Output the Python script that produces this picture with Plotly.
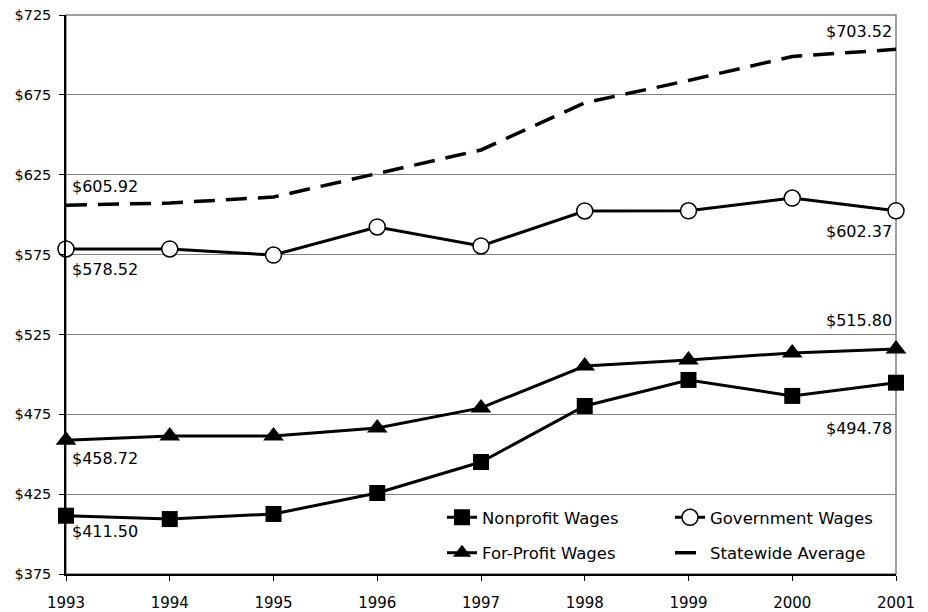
import plotly.graph_objects as go

years = [1993, 1994, 1995, 1996, 1997, 1998, 1999, 2000, 2001]
nonprofit = [411.50, 409.4, 412.6, 425.7, 445.1, 480.2, 496.5, 486.5, 494.78]
forprofit = [458.72, 461.4, 461.4, 466.4, 479.0, 505.2, 509.0, 513.4, 515.80]
government = [578.52, 578.5, 574.7, 592.3, 580.4, 602.3, 602.4, 610.4, 602.37]
statewide = [605.92, 607.3, 611.0, 625.5, 640.5, 670.0, 684.0, 699.0, 703.52]
y_ticks = [375, 425, 475, 525, 575, 625, 675, 725]
y_ticklabels = ["$" + str(v) for v in y_ticks]

FONT = "DejaVu Sans"

fig = go.Figure()
fig.add_trace(go.Scatter(x=years, y=nonprofit, name="Nonprofit Wages", mode="lines+markers",
                         line=dict(color="black", width=3),
                         marker=dict(symbol="square", size=16, color="black"),
                         cliponaxis=False, legend="legend", legendgroup="a"))
fig.add_trace(go.Scatter(x=years, y=forprofit, name="For-Profit Wages", mode="lines+markers",
                         line=dict(color="black", width=3),
                         marker=dict(symbol="triangle-up", size=18, color="black"),
                         cliponaxis=False, legend="legend", legendgroup="b"))
fig.add_trace(go.Scatter(x=years, y=government, name="Government Wages", mode="lines+markers",
                         line=dict(color="black", width=3),
                         marker=dict(symbol="circle", size=16, color="white",
                                     line=dict(color="black", width=1.5)),
                         cliponaxis=False, legend="legend2", legendgroup="c"))
fig.add_trace(go.Scatter(x=years, y=statewide, name="Statewide Average", mode="lines",
                         line=dict(color="black", width=3.5, dash="21px,11px"),
                         cliponaxis=False, legend="legend2", legendgroup="d"))

def lab(v):
    return "${:.2f}".format(v)

# (series, first-label yshift, last-label yshift); positive = above point
label_specs = [
    (statewide, 7, 6),
    (government, -9, -9),
    (forprofit, -7, 17),
    (nonprofit, -4, -34),
]
annots = []
for series, ys0, ys1 in label_specs:
    annots.append(dict(x=years[0], y=series[0], text=lab(series[0]), showarrow=False,
                       xanchor="left", yanchor="bottom" if ys0 > 0 else "top",
                       xshift=4, yshift=ys0,
                       font=dict(family=FONT, size=16, color="black")))
    annots.append(dict(x=years[-1], y=series[-1], text=lab(series[-1]), showarrow=False,
                       xanchor="right", yanchor="bottom" if ys1 > 0 else "top",
                       xshift=-2, yshift=ys1,
                       font=dict(family=FONT, size=16, color="black")))

# page body has an 8px default margin; compensate so the plot sits where the reference has it
fig.update_layout(
    width=928, height=612,
    margin=dict(l=58, r=40, t=7, b=46, autoexpand=False),
    paper_bgcolor="white", plot_bgcolor="white",
    font=dict(family=FONT, size=14, color="black"),
    showlegend=True,
    legend=dict(x=0.453, y=0.1323, xanchor="left", yanchor="top",
                bgcolor="rgba(0,0,0,0)", font=dict(family=FONT, size=16.5),
                tracegroupgap=11, itemwidth=30, traceorder="grouped"),
    legend2=dict(x=0.7277, y=0.1323, xanchor="left", yanchor="top",
                 bgcolor="rgba(0,0,0,0)", font=dict(family=FONT, size=16.5),
                 tracegroupgap=11, itemwidth=30, traceorder="grouped"),
    annotations=annots,
    shapes=[dict(type="rect", xref="x domain", yref="y domain", x0=0, x1=1, y0=0, y1=1,
                 line=dict(color="#808080", width=1.5), layer="below")],
)
fig.update_xaxes(range=[1993, 2001], tickmode="array", tickvals=years,
                 ticktext=[str(y) for y in years],
                 showline=True, linecolor="black", linewidth=1.5,
                 ticks="outside", ticklen=5, tickcolor="black", tickwidth=1.2,
                 ticklabelstandoff=9, ticklabeloverflow="allow", automargin=False,
                 showgrid=False, zeroline=False,
                 tickfont=dict(family=FONT, size=15))
fig.update_yaxes(range=[375, 725], tickmode="array", tickvals=y_ticks,
                 ticktext=y_ticklabels,
                 showline=True, linecolor="black", linewidth=1.5,
                 ticks="outside", ticklen=5, tickcolor="black", tickwidth=1.2,
                 ticklabelstandoff=5, ticklabeloverflow="allow", automargin=False,
                 showgrid=True, gridcolor="#808080", gridwidth=1.2, zeroline=False,
                 tickfont=dict(family=FONT, size=14.5))

fig.write_html("out.html")
